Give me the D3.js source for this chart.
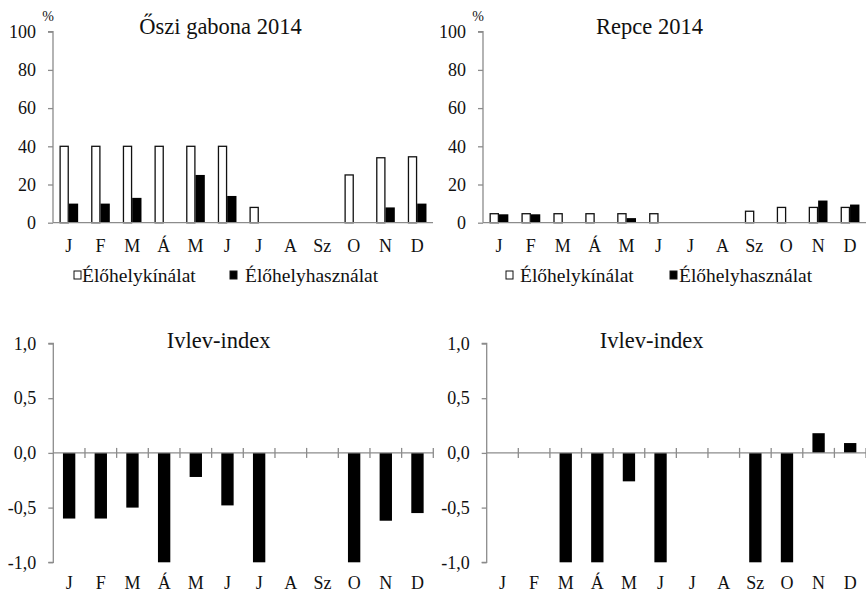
<!DOCTYPE html>
<html>
<head>
<meta charset="utf-8">
<script src="https://cdn.jsdelivr.net/npm/d3@7"></script>
<style>
  html, body { margin: 0; padding: 0; background: #fff; }
  svg { display: block; }
</style>
</head>
<body>
<svg id="chart" width="866" height="593"></svg>
<script>
// Month abbreviations (Hungarian)
const months = ["J", "F", "M", "Á", "M", "J", "J", "A", "Sz", "O", "N", "D"];

// Habitat availability / habitat use, % of months
const gabonaOffer = [40, 40, 40, 40, 40, 40, 8, 0, 0, 25, 34, 34.5];
const gabonaUse   = [10, 10, 13, 0, 25, 14, 0, 0, 0, 0, 8, 10];
const repceOffer  = [4.7, 4.7, 4.7, 4.7, 4.7, 4.7, 0, 0, 6, 8, 8, 8];
const repceUse    = [4.4, 4.4, 0, 0, 2.4, 0, 0, 0, 0, 0, 11.6, 9.5];

// Ivlev electivity index per month (null = no data)
const gabonaIvlev = [-0.6, -0.6, -0.5, -1, -0.22, -0.48, -1, null, null, -1, -0.62, -0.55];
const repceIvlev  = [null, null, -1, -1, -0.26, -1, null, null, -1, -1, 0.18, 0.09];

const pctTicks   = [0, 20, 40, 60, 80, 100];
const ivlevTicks = [-1, -0.5, 0, 0.5, 1];
const legendLabels = ["Élőhelykínálat", "Élőhelyhasználat"];

const FONT = "'Liberation Serif', 'Times New Roman', serif";
const axisColor = "#8c8c8c";
const textColor = "#111";
const svg = d3.select("#chart");
const idx = d3.range(months.length);

function styleAxis(g) {
  g.attr("font-family", null);
  g.select(".domain").attr("stroke", axisColor).attr("stroke-width", 1.3);
  g.selectAll(".tick line").attr("stroke", axisColor).attr("stroke-width", 1.3);
  g.selectAll(".tick text").attr("fill", textColor).attr("font-size", 18)
    .style("font-family", FONT);
}

function label(g, x, y, size, txt, anchor) {
  return g.append("text").attr("x", x).attr("y", y)
    .attr("text-anchor", anchor || "middle").attr("font-size", size)
    .attr("fill", textColor).style("font-family", FONT).text(txt);
}

// Paired bar chart: availability (white) vs. use (black)
function pairPanel(cfg) {
  const x = d3.scaleBand().domain(idx).range([cfg.x0, cfg.x1]);
  const y = d3.scaleLinear().domain([0, 100]).range([cfg.yb, cfg.yt]);
  const inner = d3.scaleBand().domain([0, 1]).range([0, x.bandwidth()])
    .paddingInner(0).paddingOuter(0.7);
  const g = svg.append("g");

  const yAx = g.append("g").attr("transform", `translate(${cfg.x0},0)`)
    .call(d3.axisLeft(y).tickValues(pctTicks).tickSize(5).tickPadding(12));
  styleAxis(yAx);
  yAx.selectAll(".domain").attr("d", `M-5,${cfg.yt}H0V${cfg.yb}`);

  const series = [cfg.offer, cfg.use];
  series.forEach((vals, s) => {
    g.append("g").selectAll("rect")
      .data(idx.filter(i => vals[i] > 0))
      .join("rect")
      .attr("x", i => x(i) + inner(s) + (s === 0 ? 0.6 : 0))
      .attr("y", i => y(vals[i]))
      .attr("width", inner.bandwidth() - (s === 0 ? 1.2 : 0))
      .attr("height", i => y(0) - y(vals[i]))
      .attr("fill", s === 0 ? "#fff" : "#000")
      .attr("stroke", s === 0 ? "#111" : "none")
      .attr("stroke-width", 1.3);
  });

  g.append("line")
    .attr("x1", cfg.x0).attr("x2", cfg.x1)
    .attr("y1", y(0)).attr("y2", y(0))
    .attr("stroke", axisColor).attr("stroke-width", 1.3);

  const lg = g.append("g");
  idx.forEach(i => label(lg, x(i) + x.bandwidth() / 2, cfg.labelY, 18, months[i]));

  label(g, cfg.pctX, 21, 14, "%");
  label(g, cfg.titleX, 34, 22.5, cfg.title);

  // Legend
  cfg.legend.forEach((l, s) => {
    g.append("rect").attr("x", l.box).attr("y", 271).attr("width", 7).attr("height", 8)
      .attr("fill", s === 0 ? "#fff" : "#000").attr("stroke", "#111").attr("stroke-width", 1);
    label(g, l.text, 282, 19.5, legendLabels[s], "start");
  });
}

// Ivlev index chart
function ivlevPanel(cfg) {
  const x = d3.scaleBand().domain(idx).range([cfg.x0, cfg.x1]);
  const y = d3.scaleLinear().domain([-1, 1]).range([cfg.yb, cfg.yt]);
  const g = svg.append("g");
  const fmt = v => d3.format(".1f")(v).replace(".", ",").replace("−", "-");

  const yAx = g.append("g").attr("transform", `translate(${cfg.x0},0)`)
    .call(d3.axisLeft(y).tickValues(ivlevTicks).tickFormat(fmt).tickSize(5).tickPadding(12));
  styleAxis(yAx);
  yAx.selectAll(".domain").attr("d", `M-5,${cfg.yt}H0V${cfg.yb}H-5`);

  const bw = x.bandwidth() * 0.39;
  g.append("g").selectAll("rect")
    .data(idx.filter(i => cfg.values[i] != null && cfg.values[i] !== 0))
    .join("rect")
    .attr("x", i => x(i) + (x.bandwidth() - bw) / 2)
    .attr("y", i => y(Math.max(0, cfg.values[i])))
    .attr("width", bw)
    .attr("height", i => Math.abs(y(cfg.values[i]) - y(0)))
    .attr("fill", "#000");

  // Zero line with category separators
  g.append("line")
    .attr("x1", cfg.x0).attr("x2", cfg.x1)
    .attr("y1", y(0)).attr("y2", y(0))
    .attr("stroke", axisColor).attr("stroke-width", 1.3);
  g.append("g").selectAll("line").data(d3.range(1, months.length + 1)).join("line")
    .attr("x1", i => cfg.x0 + i * x.step()).attr("x2", i => cfg.x0 + i * x.step())
    .attr("y1", y(0) - 5).attr("y2", y(0) + 5)
    .attr("stroke", axisColor).attr("stroke-width", 1.3);

  const lg = g.append("g");
  idx.forEach(i => label(lg, x(i) + x.bandwidth() / 2, 589, 18, months[i]));

  label(g, cfg.titleX, 348, 22.5, "Ivlev-index");
}

pairPanel({
  x0: 53, x1: 433, yt: 31.7, yb: 222.7, labelY: 252,
  offer: gabonaOffer, use: gabonaUse,
  title: "Őszi gabona 2014", titleX: 220.5, pctX: 48,
  legend: [{ box: 74, text: 82 }, { box: 230, text: 245 }]
});
pairPanel({
  x0: 483, x1: 866, yt: 31.7, yb: 222.7, labelY: 252,
  offer: repceOffer, use: repceUse,
  title: "Repce 2014", titleX: 649.5, pctX: 478,
  legend: [{ box: 506, text: 520 }, { box: 670, text: 679 }]
});
ivlevPanel({ x0: 53.3, x1: 433.3, yt: 343.5, yb: 562.3, values: gabonaIvlev, titleX: 218.7 });
ivlevPanel({ x0: 486.7, x1: 866, yt: 343.5, yb: 562.3, values: repceIvlev, titleX: 651.7 });
</script>
</body>
</html>
